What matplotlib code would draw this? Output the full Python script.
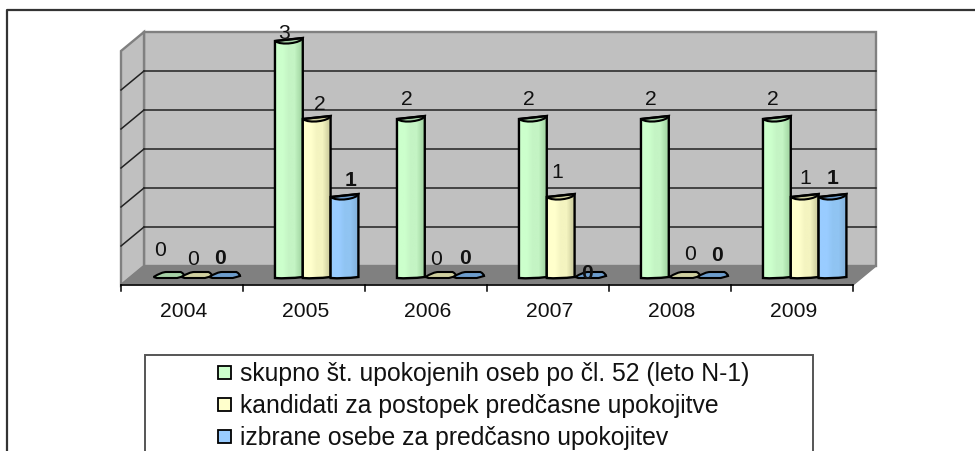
import numpy as np
import matplotlib

matplotlib.use('Agg')
import matplotlib.pyplot as plt
from matplotlib.colors import to_rgb
from matplotlib.patches import PathPatch, Polygon, Rectangle
from matplotlib.path import Path
from matplotlib.transforms import Affine2D

plt.rcParams['font.family'] = ['Liberation Sans', 'DejaVu Sans']

years = ['2004', '2005', '2006', '2007', '2008', '2009']
skupno = [0, 3, 2, 2, 2, 2]
kandidati = [0, 2, 0, 1, 0, 1]
izbrane = [0, 1, 0, 0, 0, 1]
legend_labels = ['skupno št. upokojenih oseb po čl. 52 (leto N-1)',
                 'kandidati za postopek predčasne upokojitve',
                 'izbrane osebe za predčasno upokojitev']

# light, mid, dark band of each cylinder, then the top face
green = ['#CCFFCC', '#C4F4C4', '#A9DCA9', '#A6D0A6']
yellow = ['#FFFFCC', '#F4F4C0', '#D4D4A4', '#CFCF9F']
blue = ['#99CCFF', '#90C4F2', '#85B5E0', '#6C9CCC']

# hand placed data labels in the original (pixels from the bar's centre / top)
label_shift = {
    's': [(-7, 28), (-5, 11), (-4, 23), (-4, 23), (-4, 23), (-4, 23)],
    'k': [(-2, 19), (3, 18), (-3, 19), (-3, 28), (7, 24), (1, 22)],
    'i': [(-3, 20), (6, 20), (-2, 20), (-2, 5), (6, 23), (0, 22)],
}

px_x = 122.0   # pixels per category
px_y = 78.0    # pixels per unit
bar_w = 0.228
group_left = 0.262
base = 7 / px_y
depth_x = 23 / px_x
depth_y = 19 / px_y

fig = plt.figure(figsize=(9.75, 4.52), dpi=100)
ax = fig.add_axes([0, 0, 1, 1])
ax.set_xlim(-121 / px_x, (975 - 121) / px_x)
ax.set_ylim((286 - 452) / px_y, 286 / px_y)
ax.axis('off')

pix = Affine2D().scale(1, -1).translate(0, 452)
n = len(years)

# walls and floor
ax.add_patch(Polygon([(depth_x, depth_y), (depth_x + n, depth_y), (depth_x + n, depth_y + 3),
                      (depth_x, depth_y + 3)], fc='#C0C0C0', ec='#808080', lw=1.7, zorder=1))
ax.add_patch(Polygon([(0, 0), (depth_x, depth_y), (depth_x, depth_y + 3), (0, 3)],
                     fc='#C0C0C0', ec='#808080', lw=1.7, zorder=1))
ax.add_patch(Polygon([(0, 0), (n, 0), (n + depth_x, depth_y), (depth_x, depth_y)],
                     fc='#808080', ec='#808080', lw=1, zorder=2))
for g in np.arange(0.5, 3, 0.5):
    ax.plot([depth_x, depth_x + n], [depth_y + g, depth_y + g], color='#222222', lw=1.1, zorder=1.5)
    ax.plot([0, depth_x], [g, depth_y + g], color='#222222', lw=1.1, zorder=1.5)
ax.plot([0, n], [0, 0], color='black', lw=1.1, zorder=3)
for k in range(n + 1):
    ax.plot([k, k], [0, -5.5 / px_y], color='black', lw=1.1, zorder=3)
for k, y in enumerate(years):
    ax.text(k + 0.512, -26 / px_y, y, ha='center', va='center', fontsize=15.2, color='#111111')


def draw_bar(left, value, cols, z):
    right = left + bar_w
    h = base + value
    if value == 0:
        verts = [(left + 0.005, base + 1 / px_y), (left + 0.07, base + 6 / px_y), (left + 0.11, base + 6 / px_y),
                 (right, base + 6 / px_y), (right + 0.03, base + 4 / px_y), (right + 0.03, base + 2 / px_y),
                 (right - 0.03, base), (left + 0.03, base), (left + 0.005, base + 1 / px_y)]
        codes = [Path.MOVETO, Path.CURVE3, Path.CURVE3, Path.LINETO, Path.CURVE3, Path.CURVE3,
                 Path.LINETO, Path.LINETO, Path.CLOSEPOLY]
        ax.add_patch(PathPatch(Path(verts, codes), fc=cols[3], ec='black', lw=1.5, zorder=z))
        return
    body = [(left, h + 3 / px_y), (left, base), (left + 0.1, base - 1 / px_y), (right, base + 1 / px_y),
            (right, h + 6 / px_y), (left, h + 3 / px_y)]
    codes = [Path.MOVETO, Path.LINETO, Path.CURVE3, Path.CURVE3, Path.LINETO, Path.CLOSEPOLY]
    path = Path(body, codes)
    # three shaded bands across the cylinder
    band = np.array([[to_rgb(cols[0]), to_rgb(cols[0]), to_rgb(cols[1]), to_rgb(cols[1]), to_rgb(cols[2])]])
    im = ax.imshow(band, extent=(left, right, base - 2 / px_y, h + 7 / px_y), aspect='auto',
                   interpolation='bilinear', zorder=z)
    im.set_clip_path(PathPatch(path, transform=ax.transData))
    top = [(left, h + 3 / px_y), (right, h + 6 / px_y), (right - 0.01, h + 1 / px_y),
           (left + 0.05, h - 2 / px_y), (left, h + 3 / px_y)]
    tcodes = [Path.MOVETO, Path.LINETO, Path.CURVE4, Path.CURVE4, Path.CURVE4]
    ax.add_patch(PathPatch(Path(top, tcodes), fc=cols[3], ec='black', lw=1.5, zorder=z + 0.1))
    ax.add_patch(PathPatch(path, fc='none', ec='black', lw=1.7, zorder=z + 0.2))


series = [(skupno, green, 's', 'normal'), (kandidati, yellow, 'k', 'normal'), (izbrane, blue, 'i', 'bold')]
for s, (vals, cols, key, weight) in enumerate(series):
    for i, v in enumerate(vals):
        left = i + group_left + s * bar_w
        draw_bar(left, v, cols, 4 + s + i * 3)
for s, (vals, cols, key, weight) in enumerate(series):
    for i, v in enumerate(vals):
        left = i + group_left + s * bar_w
        ax.annotate(str(v), (left + bar_w / 2, base + v), xytext=label_shift[key][i], textcoords='offset pixels',
                    ha='center', va='center', fontsize=15.2, fontweight=weight, color='#111111', zorder=40,
                    annotation_clip=False)
ax.set_xlim(-121 / px_x, (975 - 121) / px_x)
ax.set_ylim((286 - 452) / px_y, 286 / px_y)

# outer frame and legend run off the picture
ax.plot([6.5, 6.5, 980], [470, 10.5, 10.5], transform=pix, color='#333333', lw=1.6, clip_on=False, zorder=0.5)
ax.add_patch(Rectangle((145, 356), 668, 110, transform=pix, fc='white', ec='#555555', lw=1.4, zorder=50))
for k, (lab, cols) in enumerate(zip(legend_labels, [green, yellow, blue])):
    y = 373 + k * 32
    ax.add_patch(Rectangle((218, y - 6.5), 13, 13, transform=pix, fc=cols[0], ec='black', lw=1.3, zorder=51))
    ax.text(240, y + 1, lab, transform=pix, ha='left', va='center', fontsize=17.8, color='#111111', zorder=51)

fig.savefig('out.png', dpi=100)
